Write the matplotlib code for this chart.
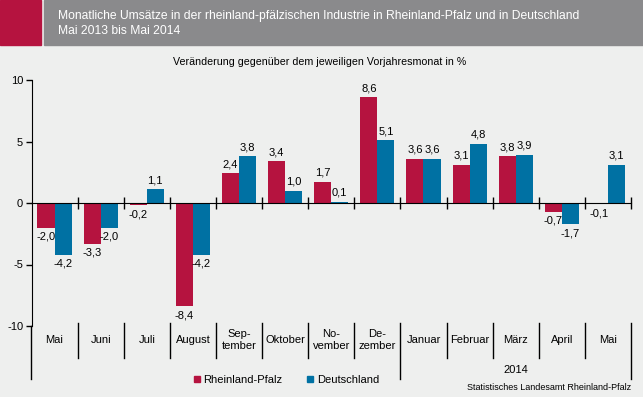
import matplotlib
matplotlib.use("Agg")
import matplotlib.pyplot as plt
from matplotlib.patches import Rectangle
from matplotlib.lines import Line2D
import numpy as np

months = ["Mai", "Juni", "Juli", "August", "Sep-\ntember", "Oktober", "No-\nvember",
          "De-\nzember", "Januar", "Februar", "März", "April", "Mai"]
rlp = [-2.0, -3.3, -0.2, -8.4, 2.4, 3.4, 1.7, 8.6, 3.6, 3.1, 3.8, -0.7, -0.1]
de = [-4.2, -2.0, 1.1, -4.2, 3.8, 1.0, 0.1, 5.1, 3.6, 4.8, 3.9, -1.7, 3.1]
series_names = ["Rheinland-Pfalz", "Deutschland"]
yticks = [-10, -5, 0, 5, 10]

RED = "#B5133F"
BLUE = "#0071A3"
BG = "#EEEFEE"
GRAY = "#8A8A8C"

plt.rcParams['font.family'] = ['Liberation Sans', 'DejaVu Sans']

W, H = 643, 397
fig = plt.figure(figsize=(W/100, H/100), dpi=100, facecolor=BG)

# header
fig.patches.append(Rectangle((0, 1-45/H), 41/W, 45/H, transform=fig.transFigure, color=RED, zorder=0))
fig.patches.append(Rectangle((44/W, 1-45/H), 1-44/W, 45/H, transform=fig.transFigure, color=GRAY, zorder=0))
fig.text(58/W, 1-16/H, "Monatliche Umsätze in der rheinland-pfälzischen Industrie in Rheinland-Pfalz und in Deutschland",
         color="white", fontsize=8.75, va="center", ha="left")
fig.text(58/W, 1-31/H, "Mai 2013 bis Mai 2014", color="white", fontsize=8.75, va="center", ha="left")
fig.text(320/W, 1-62/H, "Veränderung gegenüber dem jeweiligen Vorjahresmonat in %", fontsize=7.7,
         ha="center", va="center")

left, right = 31.5/W, 631/W
bottom, top = 1-326/H, 1-80/H
ax = fig.add_axes([left, bottom, right-left, top-bottom])
ax.set_facecolor(BG)
x = np.arange(len(months))
bw = 0.37
ax.bar(x - bw/2, rlp, bw, color=RED, zorder=2)
ax.bar(x + bw/2, de, bw, color=BLUE, zorder=2)
ax.set_xlim(-0.5, len(months)-0.5)
ax.set_ylim(-10, 10)
ax.set_yticks(yticks)
ax.set_yticklabels([str(v) for v in yticks], fontsize=8)
ax.tick_params(axis='y', direction='out', length=4, width=1, pad=2)
for s in ['top', 'right']:
    ax.spines[s].set_visible(False)
ax.spines['bottom'].set_position(('data', 0))
ax.set_xticks(np.arange(0.5, len(months), 1))
ax.set_xticklabels([])
ax.tick_params(axis='x', direction='inout', length=8, width=1)

def fmt(v):
    return f"{v:.1f}".replace(".", ",")

for xi, v in zip(x - bw/2, rlp):
    ax.annotate(fmt(v), (xi, v), xytext=(0, 3 if v >= 0 else -3), textcoords="offset points",
                ha="center", va="bottom" if v >= 0 else "top", fontsize=8, zorder=3)
for xi, v in zip(x + bw/2, de):
    ax.annotate(fmt(v), (xi, v), xytext=(0, 3 if v >= 0 else -3), textcoords="offset points",
                ha="center", va="bottom" if v >= 0 else "top", fontsize=8, zorder=3)

tr = ax.get_xaxis_transform()
axh = 246.0
def fy(py):
    return (326 - py) / axh

for xi, m in zip(x, months):
    ax.text(xi, fy(340), m, transform=tr, ha="center", va="center", fontsize=8, linespacing=1.15)
ax.text(10, fy(370), "2014", transform=tr, ha="center", va="center", fontsize=8)

for b in np.arange(0.5, len(months), 1):
    y1 = fy(379) if b in (7.5, 12.5) else fy(358)
    ax.add_line(Line2D([b, b], [fy(323), y1], transform=tr, color="black", lw=1, clip_on=False))
ax.add_line(Line2D([-0.5, -0.5], [0, fy(379)], transform=tr, color="black", lw=1, clip_on=False))

h1 = Line2D([], [], marker='s', color=RED, linestyle='none', markersize=5)
h2 = Line2D([], [], marker='s', color=BLUE, linestyle='none', markersize=5)
fig.legend([h1, h2], series_names, loc="center", bbox_to_anchor=(285/W, 1-380/H), ncol=2,
           frameon=False, fontsize=8, handletextpad=0.1, columnspacing=2.0, handlelength=1.0)
fig.text(631/W, 1-388/H, "Statistisches Landesamt Rheinland-Pfalz", fontsize=6.5, ha="right", va="center")

fig.savefig("out.png", dpi=100, facecolor=BG)
